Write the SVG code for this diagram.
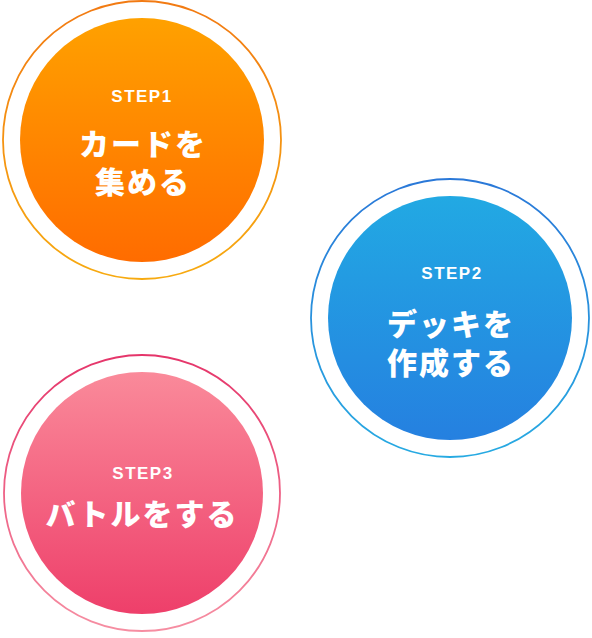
<svg xmlns="http://www.w3.org/2000/svg" width="592" height="638" viewBox="0 0 592 638">
<defs>
<linearGradient id="f1" x1="0" y1="0" x2="0" y2="1"><stop offset="0" stop-color="#ffa100"/><stop offset="1" stop-color="#ff6c00"/></linearGradient>
<linearGradient id="r1" x1="0" y1="0" x2="0" y2="1"><stop offset="0" stop-color="#f27a12"/><stop offset="1" stop-color="#f7aa10"/></linearGradient>
<linearGradient id="f2" x1="0" y1="0" x2="0" y2="1"><stop offset="0" stop-color="#22a9e3"/><stop offset="1" stop-color="#2580e0"/></linearGradient>
<linearGradient id="r2" x1="0" y1="0" x2="0" y2="1"><stop offset="0" stop-color="#2a78d8"/><stop offset="1" stop-color="#27aae2"/></linearGradient>
<linearGradient id="f3" x1="0" y1="0" x2="0" y2="1"><stop offset="0" stop-color="#fa8a9a"/><stop offset="1" stop-color="#ee3f6a"/></linearGradient>
<linearGradient id="r3" x1="0" y1="0" x2="0" y2="1"><stop offset="0" stop-color="#e5356a"/><stop offset="1" stop-color="#f68ea2"/></linearGradient>
</defs>
<style>
.ring{fill:#fff;stroke-width:1.8}
.step{font-family:"Liberation Sans","Noto Sans",sans-serif;font-weight:700;font-size:17px;fill:#fff;text-anchor:middle;letter-spacing:1.5px}
.jp{font-family:"Noto Sans CJK JP","Noto Sans",sans-serif;font-weight:900;font-size:30px;fill:#fff;text-anchor:middle;letter-spacing:2px}
</style>
<g id="step1">
<circle class="ring" cx="142" cy="140" r="139" stroke="url(#r1)"/>
<circle cx="142" cy="140" r="122" fill="url(#f1)"/>
<text class="step" x="142" y="102">STEP1</text>
<text class="jp"><tspan x="143" y="155">カードを</tspan><tspan x="143" y="193">集める</tspan></text>
</g>
<g id="step2">
<circle class="ring" cx="450" cy="318" r="139" stroke="url(#r2)"/>
<circle cx="450" cy="318" r="122" fill="url(#f2)"/>
<text class="step" x="452" y="279">STEP2</text>
<text class="jp"><tspan x="451" y="335">デッキを</tspan><tspan x="451" y="374">作成する</tspan></text>
</g>
<g id="step3">
<circle class="ring" cx="142" cy="493" r="138" stroke="url(#r3)"/>
<circle cx="142" cy="493" r="121" fill="url(#f3)"/>
<text class="step" x="143" y="479">STEP3</text>
<text class="jp" x="142" y="525">バトルをする</text>
</g>
<g id="connectors"/>
</svg>
